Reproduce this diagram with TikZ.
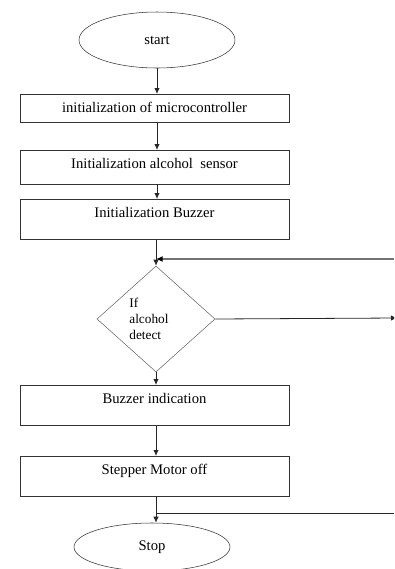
\documentclass[tikz,border=0pt]{standalone}
\usepackage{fontspec}
\setmainfont{Liberation Serif}
\usetikzlibrary{arrows.meta}
\usetikzlibrary{shapes}

\tikzset{
  procbox/.style={draw=black!80, rectangle, minimum width=201.75pt, inner xsep=2pt, inner ysep=0pt,
    text height=13.5pt, text depth=#1, anchor=north, font=\fontsize{11}{13}\selectfont},
  termbox/.style={draw=black!80, ellipse, inner sep=0pt, font=\fontsize{11}{13}\selectfont},
  flowline/.style={draw=black!85, line width=0.6pt},
  tip/.style={-{Latex[length=4.5pt,width=4pt]}},
}

\begin{document}
\begin{tikzpicture}[x=0.75pt,y=0.75pt,yscale=-1,xscale=1]
\clip (0,0) rectangle (394,569);

% terminals
\node [termbox, minimum width=117pt, minimum height=42pt] (start) at (157,40) {start};
\node [termbox, minimum width=117pt, minimum height=36pt] (stop) at (152,547) {Stop};

% process boxes
\node [procbox=7.5pt] (initmcu) at (154.5,94) {initialization of microcontroller};
\node [procbox=12pt] (initsensor) at (154.5,150) {Initialization alcohol~ sensor};
\node [procbox=16.5pt] (initbuzz) at (154.5,199) {Initialization Buzzer};
\node [procbox=16.5pt] (buzzind) at (154.5,385) {Buzzer indication};
\node [procbox=16.5pt] (motoroff) at (154.5,456) {Stepper Motor off};

% decision
\node [draw=black!60, diamond, minimum width=88.5pt, minimum height=79.5pt, inner sep=0pt,
  text width=40pt, align=left, font=\fontsize{10}{12}\selectfont] (detect) at (156,319) {If\\alcohol\\detect};

% free ends at the right border
\coordinate (loopin) at (394,259);
\coordinate (yesout) at (397,318);
\coordinate (backin) at (394,513);

% connectors
\draw [flowline,tip] (start.south) -- (start.south |- initmcu.north);
\draw [flowline,tip] (start.south |- initmcu.south) -- (start.south |- initsensor.north);
\draw [flowline,tip] (start.south |- initsensor.south) -- (start.south |- initbuzz.north);
\draw [flowline,tip] (detect.north |- initbuzz.south) -- (detect.north);
\draw [draw=black!55, line width=1pt,-{Latex[length=5pt,width=4.5pt,color=black]}] (loopin) -- (loopin -| detect.north);
\draw [flowline,tip] (detect.east) -- (yesout);
\draw [flowline,tip] (detect.south) -- (detect.south |- buzzind.north);
\draw [flowline,tip] (detect.south |- buzzind.south) -- (detect.south |- motoroff.north);
\draw [flowline,tip] (detect.south |- motoroff.south) -- (detect.south |- stop.north);
\draw [flowline] (backin) -- (backin -| detect.south);

\end{tikzpicture}
\end{document}
